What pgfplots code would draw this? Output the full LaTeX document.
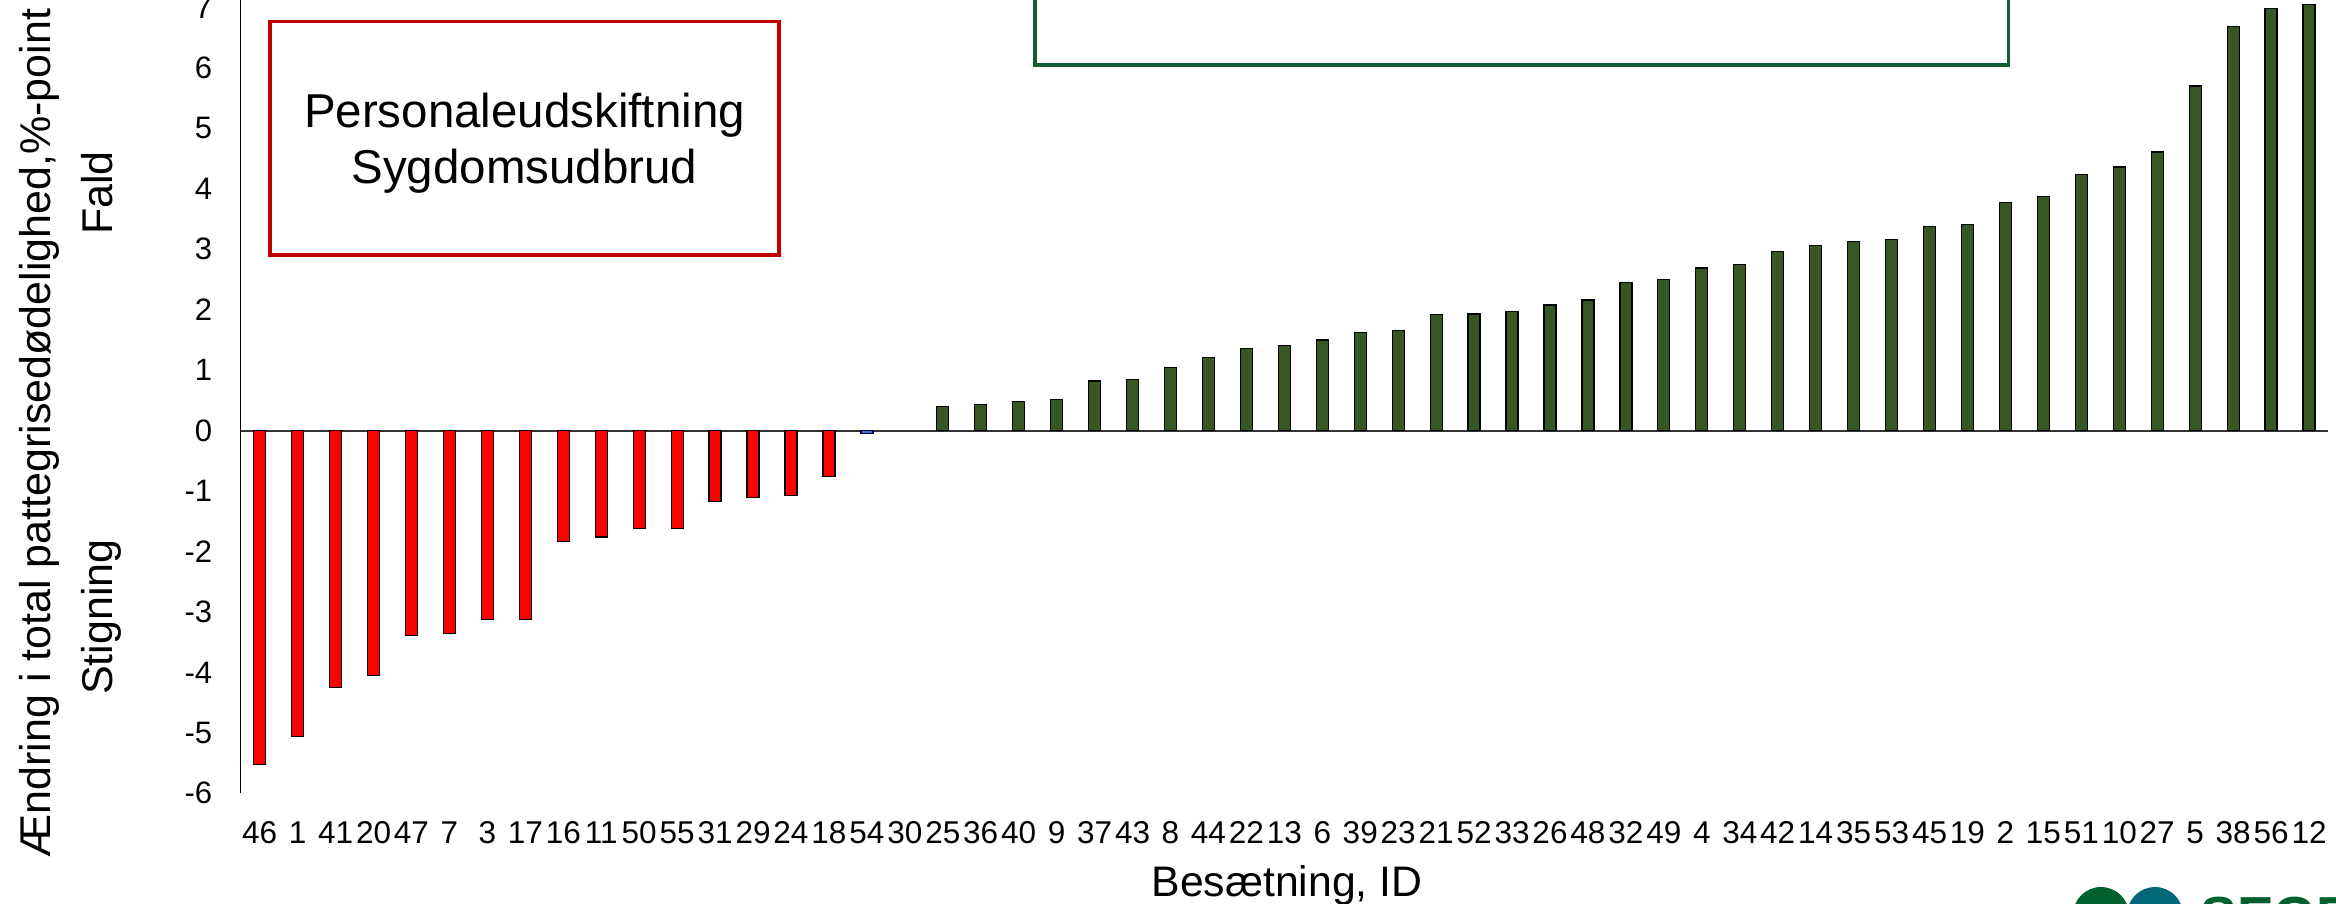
\documentclass[border=0pt]{standalone}
\usepackage{pgfplots}
\pgfplotsset{compat=1.18}
\usepackage{fontspec}
\setmainfont{Liberation Sans}
\definecolor{barred}{RGB}{255,0,0}
\definecolor{bargreen}{RGB}{56,87,35}
\definecolor{barblue}{RGB}{68,114,196}
\definecolor{boxred}{RGB}{192,0,0}
\definecolor{boxgreen}{RGB}{18,94,52}
\definecolor{logogreen}{RGB}{0,96,48}
\definecolor{logoteal}{RGB}{0,104,120}
\begin{document}
\begin{tikzpicture}[x=0.4pt,y=0.4pt]
\begin{axis}[
 at={(96.28pt,43.88pt)}, anchor=south west,
 scale only axis, width=834.9pt, height=326.4pt,
 xmin=-0.5, xmax=54.5, ymin=-6, ymax=7.5,
 axis x line=bottom, axis y line=left,
 x axis line style={draw=none},
 y axis line style={-, black, line width=0.6pt},
 major tick length=0pt,
 xtick={0,...,54},
 xticklabels={46,1,41,20,47,7,3,17,16,11,50,55,31,29,24,18,54,30,25,36,40,9,37,43,8,44,22,13,6,39,23,21,52,33,26,48,32,49,4,34,42,14,35,53,45,19,2,15,51,10,27,5,38,56,12},
 ytick={-6,...,7},
 yticklabels={-6,-5,-4,-3,-2,-1,0,1,2,3,4,5,6,7},
 xticklabel style={anchor=north, inner sep=0pt, yshift=-11.2pt, font=\fontsize{12.6}{13}\selectfont},
 yticklabel style={anchor=east, inner sep=0pt, xshift=-11.2pt, font=\fontsize{12.4}{13}\selectfont},
 ybar, bar width=4.8pt,
 clip=false,
]
\draw[black!80, line width=0.8pt] (axis cs:-0.5,0) -- (axis cs:54.5,0);
\addplot[fill=barred, draw=black, line width=0.5pt, bar shift=0pt] coordinates {
(0,-5.52) (1,-5.06) (2,-4.25) (3,-4.05) (4,-3.39) (5,-3.36) (6,-3.13) (7,-3.13)
(8,-1.83) (9,-1.76) (10,-1.62) (11,-1.62) (12,-1.175) (13,-1.10) (14,-1.07) (15,-0.76)};
\addplot[fill=barblue, draw=black!70!blue, line width=0.5pt, bar shift=0pt] coordinates {(16,-0.05)};
\addplot[fill=bargreen, draw=black, line width=0.5pt, bar shift=0pt] coordinates {
(18,0.40) (19,0.435) (20,0.48) (21,0.51) (22,0.82) (23,0.84) (24,1.04) (25,1.21)
(26,1.36) (27,1.41) (28,1.50) (29,1.62) (30,1.66) (31,1.92) (32,1.93) (33,1.97)
(34,2.08) (35,2.16) (36,2.45) (37,2.50) (38,2.69) (39,2.75) (40,2.96) (41,3.06)
(42,3.13) (43,3.16) (44,3.38) (45,3.41) (46,3.78) (47,3.87) (48,4.24) (49,4.36)
(50,4.61) (51,5.70) (52,6.69) (53,6.98) (54,7.05)};
\end{axis}
\draw[boxred, line width=1.3pt] (270,648) rectangle (779,881.3);
\node[align=center, font=\fontsize{19}{22.4}\selectfont] at (524.5,760) {Personaleudskiftning\\Sygdomsudbrud};
\draw[boxgreen, line width=1.3pt] (1035,838) rectangle (2008.5,960);
\fill[logogreen] (2101,-12) circle (28);
\fill[logoteal] (2155,-12) circle (28);
\node[anchor=north west, inner sep=0pt, font=\bfseries\fontsize{22}{22}\selectfont, text=logogreen] at (2200,6) {SEGES};
\node[rotate=90, anchor=base, font=\fontsize{17.2}{20}\selectfont] at (50,470) {Ændring i total pattegrisedødelighed,\%-point};
\node[rotate=90, anchor=base, font=\fontsize{17.2}{20}\selectfont] at (112,710) {Fald};
\node[rotate=90, anchor=base, font=\fontsize{17.2}{20}\selectfont] at (112,286) {Stigning};
\node[anchor=base, font=\fontsize{17.1}{20}\selectfont] at (1287,7) {Besætning, ID};
\pgfresetboundingbox
\useasboundingbox (0,0) rectangle (2336,903);
\end{tikzpicture}
\end{document}
